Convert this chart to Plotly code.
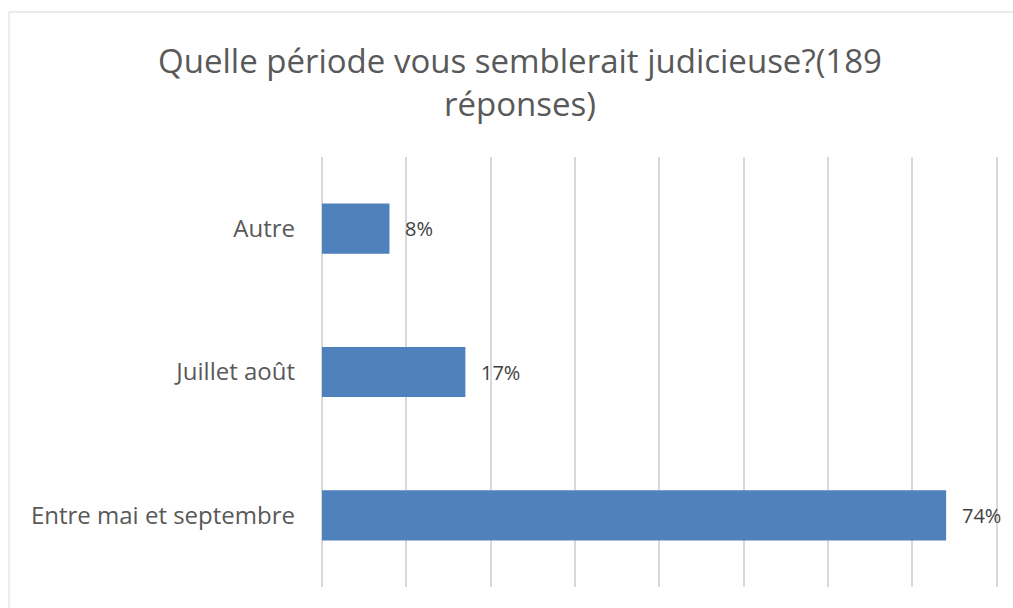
import plotly.graph_objects as go

categories = ["Entre mai et septembre", "Juillet août", "Autre"]
values = [74, 17, 8]
value_labels = ["74%", "17%", "8%"]
title_text = "Quelle période vous semblerait judicieuse?(189<br>réponses)"

W, H = 1013, 608
L, R, T, B = 322, 15, 157, 21
pw, ph = W - L - R, H - T - B

fig = go.Figure()
fig.add_trace(go.Bar(
    y=categories, x=values, orientation="h",
    marker=dict(color="#4F81BD", line=dict(width=0)),
    width=0.35, hoverinfo="skip",
))

for c, v, t in zip(categories, values, value_labels):
    fig.add_annotation(x=v, y=c, text=t, showarrow=False, xanchor="left",
                       xshift=14, font=dict(family="Open Sans", size=20, color="#404040"))

fig.add_shape(type="rect", xref="paper", yref="paper",
              x0=(9 - L) / pw, x1=1.2, y0=-0.2, y1=(H - B - 12) / ph,
              line=dict(color="#D9D9D9", width=1), fillcolor="rgba(0,0,0,0)", layer="below")

fig.update_layout(
    width=W, height=H,
    margin=dict(l=L, r=R, t=T, b=B, autoexpand=False),
    paper_bgcolor="white", plot_bgcolor="white",
    showlegend=False,
    title=dict(text=title_text, x=520 / W, xanchor="center", y=1 - 73 / H, yanchor="middle",
               font=dict(family="Open Sans", size=33, color="#595959")),
    xaxis=dict(range=[0, 80.15], dtick=10, showticklabels=False, showgrid=True,
               gridcolor="#D9D9D9", gridwidth=1.5, zeroline=True, zerolinecolor="#D9D9D9",
               zerolinewidth=1.5, showline=False, ticks=""),
    yaxis=dict(showgrid=False, showline=False, ticks="", ticklabelstandoff=26,
               tickfont=dict(family="Open Sans", size=24, color="#595959")),
)

fig.write_html("out.html", config={"displayModeBar": False},
               post_script="document.body.style.margin='0';document.body.style.overflow='hidden';")
